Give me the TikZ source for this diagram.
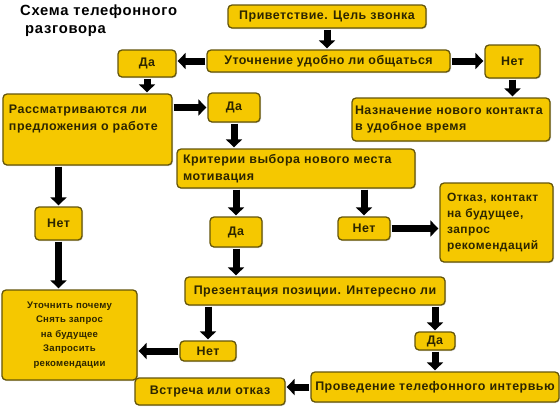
\documentclass[tikz,border=0pt]{standalone}
\usepackage{fontspec}
\setmainfont{Liberation Sans}
\usetikzlibrary{arrows.meta,shadows}
\definecolor{boxfill}{RGB}{245,200,0}
\definecolor{boxline}{RGB}{100,85,10}
\definecolor{boxtext}{RGB}{45,38,0}
\tikzset{
  box/.style={draw=boxline, line width=1.3bp, fill=boxfill, rounded corners=4bp,
    text=boxtext, inner sep=0pt,
    font={\bfseries\fontsize{12.5}{17}\selectfont\addfontfeature{LetterSpace=4}},
    drop shadow={shadow xshift=1bp, shadow yshift=-1bp, opacity=0.35}},
  arr/.style={line width=7bp, -{Triangle[width=16bp,length=8bp]},
    shorten <=1bp, shorten >=1bp},
  titletext/.style={font={\bfseries\fontsize{14.8}{16}\selectfont\addfontfeature{LetterSpace=5}}, inner sep=0pt, anchor=west}
}
\begin{document}
\begin{tikzpicture}[x=1bp,y=-1bp]
\useasboundingbox (0,0) rectangle (560,408);
\node[titletext] (t1) at (20,12) {Схема телефонного};
\node[titletext] (t2) at (25,31) {разговора};

\node[box, minimum width=198bp, minimum height=23bp] (privet) at (327,16.5) {Приветствие. Цель звонка};
\node[box, minimum width=243bp, minimum height=22bp] (utoch) at (328.5,61) {Уточнение удобно ли общаться};
\node[box, minimum width=58bp, minimum height=27bp] (da1) at (147,63.5) {Да};
\node[box, minimum width=55bp, minimum height=33bp] (net1) at (512.5,61.5) {Нет};
\node[box, minimum width=198bp, minimum height=43bp, align=left, text width=192bp] (naznach) at (451,119.5) {Назначение нового контакта\\в удобное время};
\node[box, minimum width=169bp, minimum height=71bp] (rassm) at (87.5,129.5) {\parbox[c][50bp][t]{157bp}{\raggedright Рассматриваются ли\\предложения о работе}};
\node[box, minimum width=52bp, minimum height=29bp] (da2) at (234,107.5) {Да};
\node[box, minimum width=238bp, minimum height=39bp, align=left, text width=226bp] (krit) at (296,168.5) {Критерии выбора нового места\\мотивация};
\node[box, minimum width=47bp, minimum height=33bp] (netl) at (58.5,223.5) {Нет};
\node[box, minimum width=52bp, minimum height=30bp] (dac) at (236,232) {Да};
\node[box, minimum width=52bp, minimum height=23bp] (netcr) at (364,228.5) {Нет};
\node[box, minimum width=113bp, minimum height=79bp, align=left, text width=99bp, font={\bfseries\fontsize{12}{16}\selectfont\addfontfeature{LetterSpace=4}}] (otkaz) at (496.5,222.5) {Отказ, контакт\\на будущее,\\запрос\\рекомендаций};
\node[box, minimum width=260bp, minimum height=28bp] (prez) at (315,291) {Презентация позиции. Интересно ли};
\node[box, minimum width=135bp, minimum height=90bp, align=center, font={\bfseries\fontsize{9.6}{14.5}\selectfont\addfontfeature{LetterSpace=3}}] (utochnit) at (69.5,335) {Уточнить почему\\Снять запрос\\на будущее\\Запросить\\рекомендации};
\node[box, minimum width=56bp, minimum height=20bp] (netb) at (208,351) {Нет};
\node[box, minimum width=40bp, minimum height=18bp] (dab) at (435,341) {Да};
\node[box, minimum width=150bp, minimum height=27bp] (vstrecha) at (210,391.5) {Встреча или отказ};
\node[box, minimum width=248bp, minimum height=30bp] (proved) at (435,387) {Проведение телефонного интервью};

\draw[arr] (privet.south) -- (privet.south |- utoch.north);
\draw[arr] (utoch.west) -- (utoch.west -| da1.east);
\draw[arr] (utoch.east) -- (utoch.east -| net1.west);
\draw[arr] (net1.south) -- (net1.south |- naznach.north);
\draw[arr] (da1.south) -- (da1.south |- rassm.north);
\draw[arr] (da2.west -| rassm.east) -- (da2.west);
\draw[arr] (da2.south) -- (da2.south |- krit.north);
\draw[arr] (netl.north |- rassm.south) -- (netl.north);
\draw[arr] (netl.south) -- (netl.south |- utochnit.north);
\draw[arr] (dac.north |- krit.south) -- (dac.north);
\draw[arr] (netcr.north |- krit.south) -- (netcr.north);
\draw[arr] (netcr.east) -- (netcr.east -| otkaz.west);
\draw[arr] (dac.south) -- (dac.south |- prez.north);
\draw[arr] (netb.north |- prez.south) -- (netb.north);
\draw[arr] (dab.north |- prez.south) -- (dab.north);
\draw[arr] (netb.west) -- (netb.west -| utochnit.east);
\draw[arr] (dab.south) -- (dab.south |- proved.north);
\draw[arr] (proved.west) -- (proved.west -| vstrecha.east);
\end{tikzpicture}
\end{document}
